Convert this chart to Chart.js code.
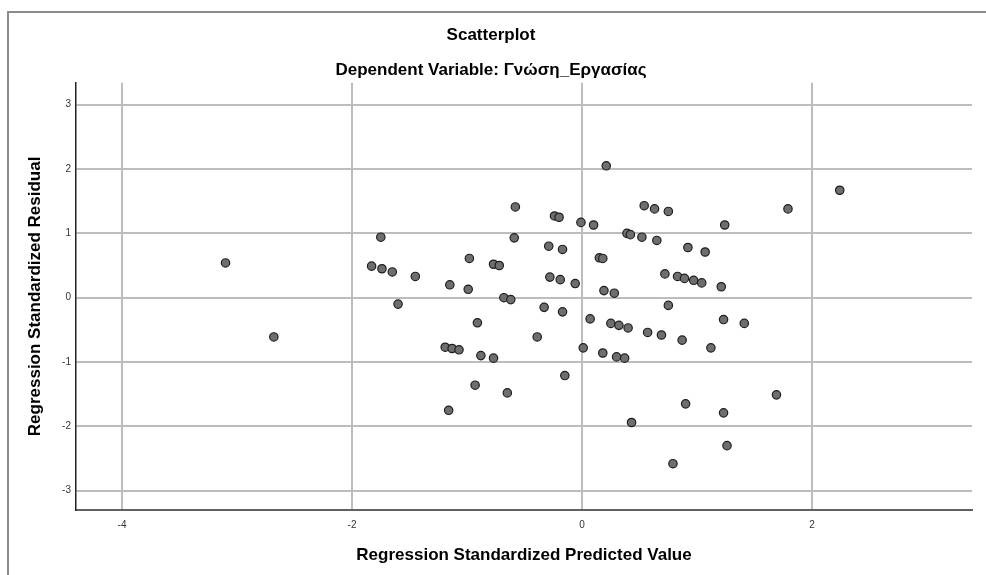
<!DOCTYPE html>
<html>
<head>
<meta charset="utf-8">
<script src="https://cdn.jsdelivr.net/npm/chart.js@4/dist/chart.umd.min.js"></script>
<style>
  html, body { margin: 0; padding: 0; background: #fff; }
  #frame { position: absolute; left: 7px; top: 11px; width: 990px; height: 580px;
           border-top: 2px solid #8c8c8c; border-left: 2px solid #8c8c8c; }
  #wrap { position: absolute; left: 0; top: 0; width: 986px; height: 575px; }
</style>
</head>
<body>
<div id="frame"></div>
<div id="wrap"><canvas id="scatter"></canvas></div>
<script>
// regression standardized predicted value (x) / standardized residual (y)
var predicted = [
  -3.10, -2.68, 0.21, -0.58, 0.54, -0.24, -0.20, -0.01, 0.10, -1.75,
  -0.59, 0.39, 0.42, 0.52, -0.29, -0.17, -0.98, 0.15, 0.18, -1.83,
  -1.74, -1.65, -1.45, -0.77, -0.72, -1.15, -0.99, -0.28, -0.19, -0.06,
  0.19, 0.28, -1.60, -0.68, -0.62, -0.33, -0.17, -0.91, 0.07, 0.25,
  0.32, 0.40, 0.57, -0.39, -1.19, -1.13, -1.07, -0.88, -0.77, 0.01,
  0.18, 0.30, 0.37, -0.15, -0.93, -0.65, -1.16, 0.43, 2.24, 1.79,
  0.63, 0.75, 1.24, 0.65, 0.92, 1.07, 0.72, 0.83, 0.89, 0.97,
  1.04, 1.21, 0.75, 1.23, 1.41, 0.69, 0.87, 1.12, 1.69, 0.90,
  1.23, 1.26, 0.79
]
var residual = [
  0.54, -0.61, 2.05, 1.41, 1.43, 1.27, 1.25, 1.17, 1.13, 0.94,
  0.93, 1.00, 0.98, 0.94, 0.80, 0.75, 0.61, 0.62, 0.61, 0.49,
  0.45, 0.40, 0.33, 0.52, 0.50, 0.20, 0.13, 0.32, 0.28, 0.22,
  0.11, 0.07, -0.10, 0.00, -0.03, -0.15, -0.22, -0.39, -0.33, -0.40,
  -0.43, -0.47, -0.54, -0.61, -0.77, -0.79, -0.81, -0.90, -0.94, -0.78,
  -0.86, -0.92, -0.94, -1.21, -1.36, -1.48, -1.75, -1.94, 1.67, 1.38,
  1.38, 1.34, 1.13, 0.89, 0.78, 0.71, 0.37, 0.33, 0.30, 0.27,
  0.23, 0.17, -0.12, -0.34, -0.40, -0.58, -0.66, -0.78, -1.51, -1.65,
  -1.79, -2.30, -2.58
]
var xTicks = [-4, -2, 0, 2]
var yTicks = [-3, -2, -1, 0, 1, 2, 3]

var points = []
for (var i = 0; i < predicted.length; i++) {
  points.push({x: predicted[i], y: residual[i]})
}

Chart.defaults.font.family = '"Liberation Sans", Arial, sans-serif'

var ctx = document.getElementById('scatter').getContext('2d')
new Chart(ctx, {
  type: 'scatter',
  data: {
    datasets: [{
      label: 'Residuals',
      data: points,
      pointRadius: 4.2,
      pointBackgroundColor: '#6e6e6e',
      pointBorderColor: '#1e1e1e',
      pointBorderWidth: 1.2
    }]
  },
  options: {
    responsive: true,
    maintainAspectRatio: false,
    animation: false,
    events: [],
    layout: { padding: { left: 10, right: 14, top: 14, bottom: 0 } },
    plugins: {
      legend: { display: false },
      tooltip: { enabled: false },
      title: {
        display: true,
        text: 'Scatterplot',
        color: '#000',
        font: { size: 17, weight: 'bold' },
        padding: { top: 11, bottom: 7 }
      },
      subtitle: {
        display: true,
        text: 'Dependent Variable: Γνώση_Εργασίας',
        color: '#000',
        font: { size: 17, weight: 'bold' },
        padding: { top: 8, bottom: 2 }
      }
    },
    scales: {
      x: {
        type: 'linear',
        min: -4.4,
        max: 3.39,
        afterFit: function (scale) { scale.height = 65 },
        afterBuildTicks: function (scale) {
          scale.ticks = xTicks.map(function (v) { return {value: v} })
        },
        ticks: { stepSize: 2, includeBounds: false, color: '#333', font: { size: 10 }, padding: 9 },
        grid: { color: '#bdbdbd', lineWidth: 2, drawTicks: false },
        border: { color: '#606060', width: 2 },
        title: {
          display: true,
          text: 'Regression Standardized Predicted Value',
          color: '#000',
          font: { size: 17, weight: 'bold' },
          padding: { top: 0, bottom: 9 }
        }
      },
      y: {
        type: 'linear',
        min: -3.30,
        max: 3.34,
        afterFit: function (scale) { scale.width = 66 },
        afterBuildTicks: function (scale) {
          scale.ticks = yTicks.map(function (v) { return {value: v} })
        },
        ticks: { stepSize: 1, includeBounds: false, color: '#333', font: { size: 10 }, padding: 5 },
        grid: { color: '#bdbdbd', lineWidth: 2, drawTicks: false },
        border: { color: '#222', width: 1.5 },
        title: {
          display: true,
          text: 'Regression Standardized Residual',
          color: '#000',
          font: { size: 17, weight: 'bold' },
          padding: { top: 15, bottom: 0 }
        }
      }
    }
  }
})
</script>
</body>
</html>
